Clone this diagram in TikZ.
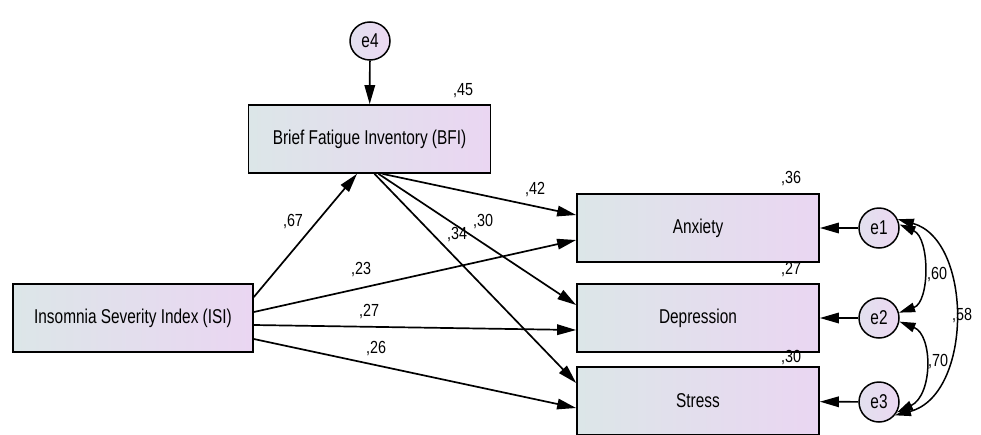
\documentclass[tikz,border=0pt]{standalone}
\usepackage{fontspec}
\setmainfont{Liberation Sans}
\usetikzlibrary{positioning}
\usetikzlibrary{shapes}
\usetikzlibrary{arrows.meta}

\definecolor{boxleft}{RGB}{220,230,232}
\definecolor{boxright}{RGB}{234,214,242}
\definecolor{errleft}{RGB}{226,224,238}
\definecolor{errright}{RGB}{236,216,242}

\newcommand{\boxtext}[1]{\scalebox{0.77}[1]{\fontsize{20}{22}\selectfont #1}}
\newcommand{\coeftext}[1]{\scalebox{0.82}[1]{\fontsize{17.5}{19}\selectfont #1}}

\tikzset{
	varbox/.style={draw, line width=1.7pt, rectangle, minimum width=242pt, minimum height=68pt, inner sep=0pt, left color=boxleft, right color=boxright},
	errnode/.style={draw, line width=1.5pt, ellipse, minimum width=40pt, minimum height=40pt, inner sep=0pt, left color=errleft, right color=errright},
	regpath/.style={line width=1.7pt, -{Triangle[length=19pt,width=10.5pt]}},
	covpath/.style={line width=1.5pt, {Triangle[length=16pt,width=9.5pt]}-{Triangle[length=16pt,width=9.5pt]}},
	coef/.style={inner sep=0pt}
}

\begin{document}
\begin{tikzpicture}[x=1pt,y=-1pt]
\useasboundingbox (0,0) rectangle (981,434);

%variables
\node[varbox] (bfi) at (369.5,139) {\boxtext{Brief Fatigue Inventory (BFI)}};
\node[varbox, minimum width=240pt] (isi) at (133,318) {\boxtext{Insomnia Severity Index (ISI)}};
\node[varbox] (anx) at (698,228) {\boxtext{Anxiety}};
\node[varbox] (dep) at (698,318) {\boxtext{Depression}};
\node[varbox] (str) at (698,401) {\boxtext{Stress}};

%errors
\node[errnode, minimum height=38pt] (e4) at (370,41) {\boxtext{e4}};
\node[errnode] (e1) at (879,228) {\boxtext{e1}};
\node[errnode] (e2) at (879,318) {\boxtext{e2}};
\node[errnode] (e3) at (879,402) {\boxtext{e3}};

%regression paths
\draw[regpath] (e4) -- (bfi);
\draw[regpath] ([yshift=21pt]isi.east) -- ([xshift=-12.5pt]bfi.south);
\draw[regpath] ([yshift=6pt]isi.east) -- ([yshift=-12pt]anx.west);
\draw[regpath] ([yshift=-7pt]isi.east) -- ([yshift=-12pt]dep.west);
\draw[regpath] ([yshift=-21pt]isi.east) -- ([yshift=-7pt]str.west);
\draw[regpath] ([xshift=13pt]bfi.south) -- ([yshift=13pt]anx.west);
\draw[regpath] ([xshift=9pt]bfi.south) -- ([yshift=13pt]dep.west);
\draw[regpath] ([xshift=5pt]bfi.south) -- ([yshift=18pt]str.west);
\draw[regpath] (e1) -- (anx);
\draw[regpath] (e2) -- (dep);
\draw[regpath] (e3) -- (str);

%covariances
\draw[covpath] (e1.10) .. controls (930,238) and (930,302) .. (e2.15);
\draw[covpath] (e2.-10) .. controls (933,335) and (933,395) .. (e3.-30);
\draw[covpath] (e1.25) .. controls (973,240) and (973,395) .. (e3.-40);

%coefficients
\node[coef] (r45) at (463,91) {\coeftext{,45}};
\node[coef] (r36) at (791,179) {\coeftext{,36}};
\node[coef] (r27) at (791,270) {\coeftext{,27}};
\node[coef] (r30) at (791,358) {\coeftext{,30}};
\node[coef] (b67) at (293,222) {\coeftext{,67}};
\node[coef] (b42) at (535,190) {\coeftext{,42}};
\node[coef] (b30) at (483,222) {\coeftext{,30}};
\node[coef] (b34) at (457,235) {\coeftext{,34}};
\node[coef] (b23) at (361,270) {\coeftext{,23}};
\node[coef] (b27) at (369,312) {\coeftext{,27}};
\node[coef] (b26) at (376,349) {\coeftext{,26}};
\node[coef] (c60) at (937,275) {\coeftext{,60}};
\node[coef] (c70) at (938,362) {\coeftext{,70}};
\node[coef] (c58) at (962,316) {\coeftext{,58}};

\end{tikzpicture}
\end{document}
